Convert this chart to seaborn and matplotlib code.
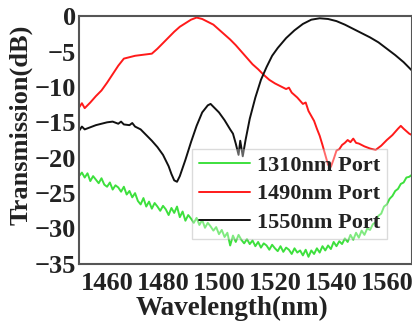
import numpy as np
import pandas as pd
import seaborn as sns
import matplotlib
matplotlib.use("Agg")
import matplotlib.pyplot as plt
from matplotlib.ticker import MultipleLocator

# ---- data ----
wl_red = [1450, 1451, 1452, 1453, 1454, 1456, 1458, 1460, 1462, 1464, 1466, 1468, 1470, 1472,
          1474, 1476, 1478, 1480, 1482, 1484, 1486, 1488, 1490, 1492, 1494, 1496, 1498, 1500,
          1502, 1504, 1506, 1508, 1510, 1512, 1514, 1516, 1518, 1520, 1522, 1524, 1525, 1526,
          1528, 1530, 1531, 1532, 1534, 1535, 1536, 1537, 1538, 1539, 1540, 1541, 1542, 1543,
          1544, 1545, 1546, 1547, 1548, 1549, 1550, 1552, 1554, 1556, 1558, 1560, 1562, 1564,
          1565, 1566, 1568, 1569]
tr_red = [-12.9, -12.3, -13.0, -12.6, -12.2, -11.3, -10.5, -9.4, -8.2, -7.0, -6.0, -5.8, -5.6, -5.5,
          -5.4, -5.3, -4.6, -3.8, -3.0, -2.2, -1.5, -1.0, -0.5, -0.2, -0.4, -0.8, -1.2, -1.9,
          -2.6, -3.3, -4.1, -5.0, -5.9, -6.8, -7.5, -8.3, -9.0, -9.5, -9.9, -10.3, -10.1, -10.8,
          -11.5, -12.4, -12.2, -13.4, -14.8, -15.9, -16.9, -18.2, -19.6, -21.0, -21.3, -20.2, -19.0, -18.8,
          -18.2, -17.9, -17.5, -17.8, -17.3, -17.9, -18.0, -18.4, -18.7, -18.9, -18.3, -17.5, -16.8, -15.9,
          -15.5, -15.9, -16.6, -16.8]

wl_black = [1450, 1451, 1452, 1454, 1456, 1458, 1460, 1462, 1464, 1465, 1466, 1468, 1469, 1470,
            1472, 1474, 1476, 1478, 1480, 1482, 1483, 1484, 1485, 1486, 1488, 1490, 1492, 1494,
            1496, 1497, 1498, 1500, 1502, 1504, 1505, 1506, 1507, 1507.6, 1508.5, 1509.5, 1511,
            1513, 1515, 1517, 1519, 1521, 1524, 1527, 1530, 1533, 1536, 1539, 1542, 1545, 1548,
            1551, 1554, 1557, 1560, 1563, 1566, 1568, 1569]
tr_black = [-16.2, -15.6, -16.0, -15.7, -15.4, -15.2, -15.0, -14.9, -15.2, -14.9, -15.3, -15.4, -15.1, -15.6,
            -16.0, -16.8, -17.6, -18.5, -19.6, -21.2, -22.3, -23.2, -23.4, -22.6, -20.3, -17.8, -15.5, -13.6,
            -12.6, -12.4, -12.8, -13.6, -14.7, -16.0, -16.6, -18.0, -19.6, -17.6, -19.8, -17.5, -14.5,
            -11.5, -9.0, -7.2, -5.6, -4.5, -3.1, -2.0, -1.1, -0.5, -0.3, -0.4, -0.7, -1.2, -1.8,
            -2.4, -3.0, -3.7, -4.6, -5.5, -6.5, -7.3, -7.7]

wl_green = list(range(1450, 1570))
tr_green = [-22.6, -22.1, -22.8, -22.2, -23.3, -22.6, -23.1, -23.6, -22.9, -23.8,
            -24.1, -23.5, -24.5, -23.9, -24.2, -24.8, -24.1, -25.2, -24.7, -25.6,
            -25.0, -26.1, -26.6, -25.7, -26.9, -26.2, -27.2, -26.4, -26.9, -27.5,
            -26.8, -27.3, -28.1, -27.1, -27.8, -26.9, -28.4, -27.6, -28.9, -28.1,
            -28.6, -29.2, -28.5, -29.5, -28.8, -29.9, -29.2, -29.7, -30.3, -29.8,
            -30.8, -30.2, -31.2, -30.6, -32.4, -31.0, -31.9, -30.9, -31.6, -32.1,
            -31.5, -32.2, -31.7, -32.5, -31.9, -32.7, -32.1, -32.4, -33.0, -32.3,
            -32.8, -33.2, -32.5, -33.3, -32.7, -33.0, -33.6, -32.8, -33.4, -33.1,
            -33.8, -33.0, -34.0, -33.1, -33.6, -32.8, -33.4, -32.5, -33.1, -32.4,
            -32.9, -31.9, -32.5, -31.8, -32.2, -31.4, -31.9, -30.9, -31.6, -30.6,
            -31.3, -30.3, -30.9, -30.0, -30.2, -29.4, -29.1, -28.2, -27.9, -26.9,
            -26.6, -25.8, -25.4, -24.7, -24.4, -23.7, -23.5, -22.8, -22.7, -22.4]

labels = ["1310nm Port", "1490nm Port", "1550nm Port"]
colors = ["#3de03d", "#ff1a1a", "#111111"]

df = pd.concat([
    pd.DataFrame({"Wavelength": wl_green, "T": tr_green, "Port": labels[0]}),
    pd.DataFrame({"Wavelength": wl_red, "T": tr_red, "Port": labels[1]}),
    pd.DataFrame({"Wavelength": wl_black, "T": tr_black, "Port": labels[2]}),
], ignore_index=True)

sns.set_theme(style="white")
plt.rcParams["font.family"] = ["Liberation Serif", "DejaVu Serif"]
plt.rcParams["font.weight"] = "bold"

fig = plt.figure(figsize=(4.12, 3.23), dpi=100)
ax = fig.add_axes([0.192, 0.183, 0.808, 0.767])

sns.lineplot(data=df, x="Wavelength", y="T", hue="Port", hue_order=labels,
             palette=colors, linewidth=1.4, ax=ax, sort=False, estimator=None)

ax.set_xlim(1450, 1569)
ax.set_ylim(-35, 0)
ax.xaxis.set_major_locator(MultipleLocator(20))
ax.xaxis.set_minor_locator(MultipleLocator(10))
ax.yaxis.set_major_locator(MultipleLocator(5))
ax.yaxis.set_minor_locator(MultipleLocator(2.5))
ax.tick_params(axis="both", which="both", direction="in", colors="#444444",
               labelcolor="#222222", top=False, right=False)
ax.tick_params(which="major", length=3, width=1)
ax.tick_params(which="minor", length=2, width=0.8)
ax.tick_params(axis="x", labelsize=19, pad=6)
ax.tick_params(axis="y", labelsize=19, pad=2)
for lab in ax.get_xticklabels() + ax.get_yticklabels():
    lab.set_fontweight("bold")
for s in ax.spines.values():
    s.set_color("#555555")
    s.set_linewidth(1.5)

ax.set_xlabel("Wavelength(nm)", fontsize=19.5, fontweight="bold", color="#222222")
ax.xaxis.set_label_coords(0.46, -0.13)
ax.set_ylabel("Transmission(dB)", fontsize=19, fontweight="bold", color="#222222")
ax.yaxis.set_label_coords(-0.14, 0.56)

leg = ax.legend(loc="upper left", bbox_to_anchor=(0.34, 0.464), frameon=True,
                prop={"family": "Liberation Serif", "weight": "bold", "size": 16},
                handlelength=2.3, handletextpad=0.3, labelspacing=0.35,
                borderpad=0.3, borderaxespad=0, fancybox=False, framealpha=0.35)
leg.get_frame().set_edgecolor("#999999")
leg.get_frame().set_linewidth(1.0)
for t in leg.get_texts():
    t.set_color("#222222")

fig.savefig("out.png", dpi=100)
